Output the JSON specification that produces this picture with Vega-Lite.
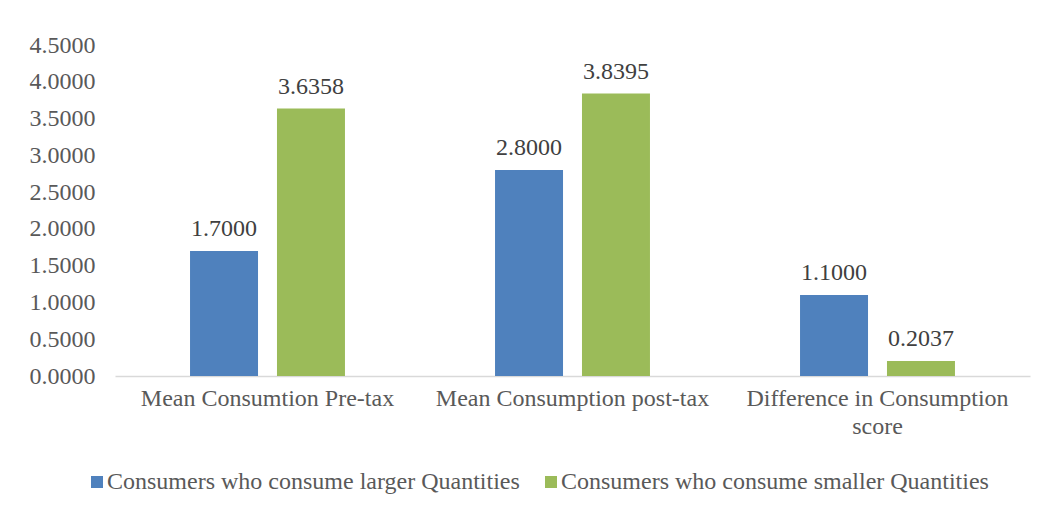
{
  "$schema": "https://vega.github.io/schema/vega-lite/v6.json",
  "autosize": "none",
  "width": 915,
  "height": 331,
  "padding": {"left": 115, "top": 45, "right": 21, "bottom": 136},
  "background": "white",
  "config": {
    "view": {"stroke": null},
    "font": "Liberation Serif",
    "axis": {"labelFont": "Liberation Serif", "labelFontSize": 24, "labelColor": "#595959", "grid": false, "ticks": false},
    "legend": {"labelFont": "Liberation Serif", "labelFontSize": 24, "labelColor": "#595959"}
  },
  "data": {
    "values": [
      {"category": "Mean Consumtion Pre-tax", "group": "Consumers who consume larger Quantities", "value": 1.7},
      {"category": "Mean Consumtion Pre-tax", "group": "Consumers who consume smaller Quantities", "value": 3.6358},
      {"category": "Mean Consumption post-tax", "group": "Consumers who consume larger Quantities", "value": 2.8},
      {"category": "Mean Consumption post-tax", "group": "Consumers who consume smaller Quantities", "value": 3.8395},
      {"category": "Difference in Consumption score", "group": "Consumers who consume larger Quantities", "value": 1.1},
      {"category": "Difference in Consumption score", "group": "Consumers who consume smaller Quantities", "value": 0.2037}
    ]
  },
  "encoding": {
    "x": {
      "field": "category", "type": "nominal", "sort": null, "title": null,
      "scale": {"paddingInner": 0.492, "paddingOuter": 0.246},
      "axis": {
        "labelAngle": 0, "labelPadding": 10, "domainColor": "#d9d9d9", "domainWidth": 1.5,
        "labelLineHeight": 28, "labelLimit": 400,
        "labelExpr": "datum.label == 'Difference in Consumption score' ? ['Difference in Consumption', 'score'] : datum.label"
      }
    },
    "xOffset": {"field": "group", "type": "nominal", "scale": {"paddingInner": 0.218}},
    "y": {
      "field": "value", "type": "quantitative", "title": null,
      "scale": {"domain": [0, 4.5], "nice": false},
      "axis": {"values": [0, 0.5, 1, 1.5, 2, 2.5, 3, 3.5, 4, 4.5], "format": ".4f", "domain": false, "labelPadding": 20}
    }
  },
  "layer": [
    {
      "mark": {"type": "bar"},
      "encoding": {
        "color": {
          "field": "group", "type": "nominal", "title": null,
          "scale": {"range": ["#4F81BD", "#9BBB59"]},
          "legend": {
            "orient": "none", "direction": "horizontal", "legendX": -30, "legendY": 425,
            "symbolType": "square", "symbolSize": 144, "symbolStrokeWidth": 0, "labelOffset": -2,
            "columnPadding": 19, "labelLimit": 600
          }
        }
      }
    },
    {
      "mark": {"type": "text", "baseline": "alphabetic", "dy": -15, "fontSize": 24, "font": "Liberation Serif", "color": "#404040"},
      "encoding": {
        "text": {"field": "value", "type": "quantitative", "format": ".4f"}
      }
    }
  ]
}
